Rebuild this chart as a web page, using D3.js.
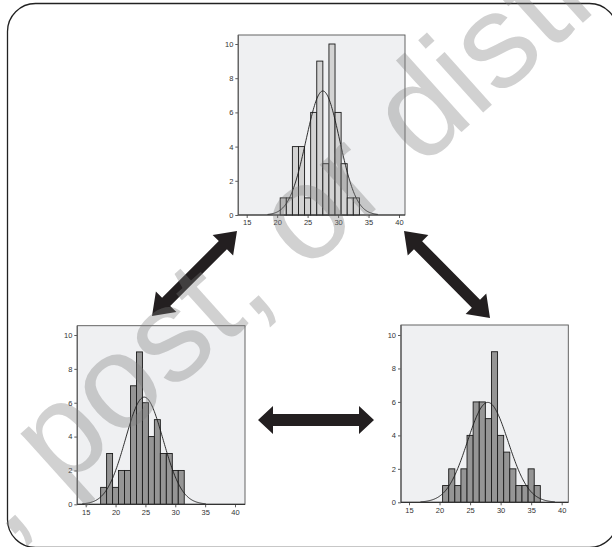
<!DOCTYPE html>
<html><head><meta charset="utf-8">
<script src="https://cdn.jsdelivr.net/npm/d3@7"></script>
<style>html,body{margin:0;padding:0;background:#fff;}svg{display:block;}</style>
</head><body>
<script>
// ---- data ----
const xTicks = [15, 20, 25, 30, 35, 40];
const yTicks = [0, 2, 4, 6, 8, 10];
const topBins = [21, 22, 23, 24, 25, 26, 27, 28, 29, 30, 31, 32, 33];
const topCounts = [1, 1, 4, 4, 1, 6, 9, 3, 10, 6, 3, 1, 1];
const leftBins = [18, 19, 20, 21, 22, 23, 24, 25, 26, 27, 28, 29, 30, 31];
const leftCounts = [1, 3, 1, 2, 2, 7, 9, 6, 4, 5, 3, 3, 2, 2];
const rightBins = [21, 22, 23, 24, 25, 26, 27, 28, 29, 30, 31, 32, 33, 34, 35, 36];
const rightCounts = [1, 2, 1, 2, 4, 6, 6, 5, 9, 4, 3, 2, 1, 1, 2, 1];
const fitMean = [27.5, 24.8, 27.9];
const fitSd = [2.75, 3.15, 3.34];
const sampleN = [50, 50, 50];
const watermark = "Do not copy, post, or distribute";

// ---- layout ----
const W = 612, H = 547;
const svg = d3.select("body").append("svg").attr("width", W).attr("height", H);

svg.append("rect").attr("x", 7.5).attr("y", 3.5).attr("width", 610).attr("height", 544)
  .attr("rx", 28).attr("fill", "none").attr("stroke", "#222").attr("stroke-width", 1.3);

const panels = [
  {bins: topBins, counts: topCounts, fill: "#d3d3d3", L: 238.3, R: 405, T: 35, x15: 246.7, x40: 399, y0: 215, y10: 44, k: 0},
  {bins: leftBins, counts: leftCounts, fill: "#959595", L: 77.3, R: 245, T: 325.7, x15: 85.7, x40: 235, y0: 504.3, y10: 335, k: 1},
  {bins: rightBins, counts: rightCounts, fill: "#959595", L: 401, R: 568.3, T: 325, x15: 409, x40: 561.7, y0: 502.3, y10: 335, k: 2}
];

panels.forEach(p => {
  const x = d3.scaleLinear().domain([15, 40]).range([p.x15, p.x40]);
  const y = d3.scaleLinear().domain([0, 10]).range([p.y0, p.y10]);
  const g = svg.append("g");
  g.append("rect").attr("x", p.L).attr("y", p.T).attr("width", p.R - p.L).attr("height", p.y0 - p.T)
    .attr("fill", "#eff0f2").attr("stroke", "#555").attr("stroke-width", 0.9);
  // bars
  g.selectAll("rect.bar").data(p.bins.map((b, i) => ({b, c: p.counts[i]}))).enter().append("rect")
    .attr("class", "bar")
    .attr("x", d => x(d.b - 0.5)).attr("width", d => x(d.b + 0.5) - x(d.b - 0.5))
    .attr("y", d => y(d.c)).attr("height", d => y(0) - y(d.c))
    .attr("fill", p.fill).attr("stroke", "#1a1a1a").attr("stroke-width", 0.9);
  // normal curve
  const m = fitMean[p.k], s = fitSd[p.k], n = sampleN[p.k];
  const pts = d3.range(m - 3.3 * s, m + 3.3 * s + 0.001, 0.1).map(v => [v, n / (s * Math.sqrt(2 * Math.PI)) * Math.exp(-0.5 * ((v - m) / s) ** 2)]);
  g.append("path").attr("d", d3.line().x(d => x(d[0])).y(d => y(d[1])).curve(d3.curveBasis)(pts))
    .attr("fill", "none").attr("stroke", "#1a1a1a").attr("stroke-width", 0.9);
  // axes
  const ya = d3.axisLeft(y).tickValues(yTicks).tickSize(3).tickPadding(2).tickFormat(d3.format("d"));
  const ay = g.append("g").attr("transform", `translate(${p.L},0)`).call(ya);
  const xa = d3.axisBottom(x).tickValues(xTicks).tickSize(3).tickPadding(2).tickFormat(d3.format("d"));
  const ax = g.append("g").attr("transform", `translate(0,${p.y0})`).call(xa);
  [ay, ax].forEach(a => {
    a.select(".domain").remove();
    a.selectAll("line").attr("stroke", "#333").attr("stroke-width", 0.8);
    a.selectAll("text").attr("font-family", "Liberation Sans, Arial, sans-serif").attr("font-size", 7.5).attr("fill", "#333");
  });
  g.append("line").attr("x1", p.L).attr("x2", p.L).attr("y1", p.T).attr("y2", p.y0).attr("stroke", "#666").attr("stroke-width", 1.4);
  g.append("line").attr("x1", p.L).attr("x2", p.R).attr("y1", p.y0).attr("y2", p.y0).attr("stroke", "#333").attr("stroke-width", 1.2);
});

// ---- arrows ----
function arrow(x1, y1, x2, y2, shaft, headW, headL) {
  const dx = x2 - x1, dy = y2 - y1, len = Math.hypot(dx, dy);
  const ux = dx / len, uy = dy / len, nx = -uy, ny = ux;
  const P = (a, b) => [x1 + ux * a + nx * b, y1 + uy * a + ny * b];
  const pts = [P(0, 0), P(headL, headW / 2), P(headL, shaft / 2), P(len - headL, shaft / 2), P(len - headL, headW / 2),
    P(len, 0), P(len - headL, -headW / 2), P(len - headL, -shaft / 2), P(headL, -shaft / 2), P(headL, -headW / 2)];
  svg.append("path").attr("d", "M" + pts.map(q => q.join(",")).join("L") + "Z").attr("fill", "#231f20");
}
arrow(152, 316, 237, 231, 11.5, 29, 20);
arrow(404, 231, 490, 318, 11.5, 29, 20);
arrow(258, 420, 374, 420, 12, 28, 15);

// ---- watermark ----
svg.append("text").text(watermark)
  .attr("transform", "translate(-518,1014) rotate(-42)")
  .attr("font-family", "Liberation Sans, Arial, sans-serif").attr("font-size", 134)
  .attr("fill", "#7a7a7a").attr("fill-opacity", 0.35);
</script>
</body></html>
